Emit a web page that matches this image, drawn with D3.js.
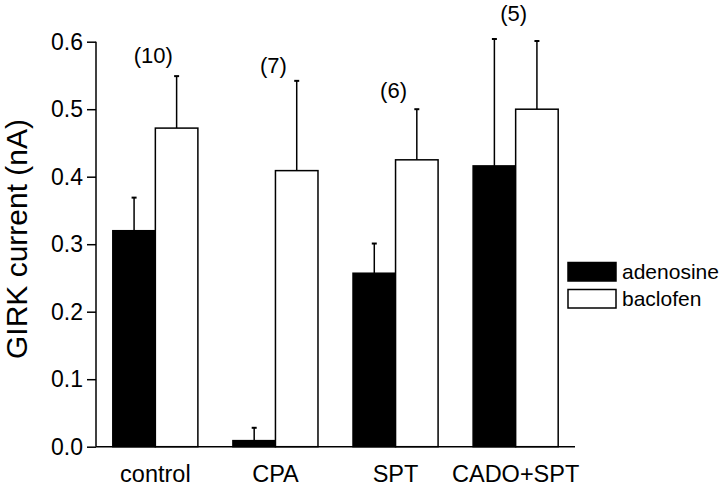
<!DOCTYPE html>
<html><head><meta charset="utf-8">
<script src="https://cdn.jsdelivr.net/npm/d3@7"></script>
<style>body{margin:0;background:#fff}svg{display:block}text{font-family:"Liberation Sans",Arial,sans-serif;fill:#000}</style>
</head><body>
<script>
const categories = ["control", "CPA", "SPT", "CADO+SPT"];
const adenosine = [0.32, 0.009, 0.257, 0.416];
const adenosineErr = [0.049, 0.019, 0.044, 0.188];
const baclofen = [0.472, 0.409, 0.425, 0.5];
const baclofenErr = [0.077, 0.133, 0.075, 0.101];
const nLabels = ["(10)", "(7)", "(6)", "(5)"];
const nLabelY = [0.568, 0.554, 0.516, 0.630];
const yTicks = [0.0, 0.1, 0.2, 0.3, 0.4, 0.5, 0.6];
const seriesNames = ["adenosine", "baclofen"];

const W = 720, H = 488;
const FF = '"Liberation Sans",Arial,sans-serif';
const svg = d3.select("body").append("svg").attr("width", W).attr("height", H);

const y = d3.scaleLinear().domain([0, 0.6]).range([446.7, 41.7]);
const x = d3.scaleBand().domain(categories).range([96, 575]).paddingInner(0.2917).paddingOuter(0.14);
const xs = d3.scaleBand().domain(seriesNames).range([0, x.bandwidth()]);

const fills = {adenosine: "#000", baclofen: "#fff"};
const rows = [];
categories.forEach((c, i) => {
  rows.push({c, s: "adenosine", v: adenosine[i], e: adenosineErr[i]});
  rows.push({c, s: "baclofen", v: baclofen[i], e: baclofenErr[i]});
});

// error bars (upward only)
const eb = svg.append("g").attr("stroke", "#000").attr("stroke-width", 1.5);
rows.forEach(d => {
  const cx = x(d.c) + xs(d.s) + xs.bandwidth() / 2;
  eb.append("line").attr("x1", cx).attr("x2", cx).attr("y1", y(d.v)).attr("y2", y(d.v + d.e));
  eb.append("line").attr("x1", cx - 2.5).attr("x2", cx + 2.5).attr("y1", y(d.v + d.e)).attr("y2", y(d.v + d.e)).attr("stroke-width", 2);
});

// bars
svg.append("g").selectAll("rect").data(rows).join("rect")
  .attr("x", d => x(d.c) + xs(d.s))
  .attr("y", d => y(d.v))
  .attr("width", xs.bandwidth())
  .attr("height", d => y(0) - y(d.v))
  .attr("fill", d => fills[d.s])
  .attr("stroke", "#000").attr("stroke-width", 1.5);

// y axis
const ya = svg.append("g").attr("transform", "translate(96,0)")
  .call(d3.axisLeft(y).tickValues(yTicks).tickFormat(d3.format(".1f")).tickSize(9).tickPadding(4));
ya.select(".domain").attr("stroke-width", 1.5).attr("d", `M0,${y(0)}V${y(0.6)}`);
ya.selectAll(".tick line").attr("stroke-width", 1.5);
ya.selectAll(".tick text").attr("font-size", 23).style("font-family", FF);

// x axis
const xa = svg.append("g").attr("transform", `translate(0,${y(0)})`)
  .call(d3.axisBottom(x).tickSize(0).tickPadding(19));
xa.select(".domain").attr("stroke-width", 1.5).attr("d", "M96,0H575");
xa.selectAll(".tick text").attr("font-size", 23.5).style("font-family", FF);

// n labels
svg.append("g").selectAll("text").data(categories).join("text")
  .attr("x", d => x(d) + x.bandwidth() / 2 - 2)
  .attr("y", (d, i) => y(nLabelY[i]))
  .attr("text-anchor", "middle").attr("font-size", 22)
  .text((d, i) => nLabels[i]);

// y title
svg.append("text").attr("transform", "translate(27,239) rotate(-90)")
  .attr("text-anchor", "middle").attr("font-size", 30).text("GIRK current (nA)");

// legend
const lg = svg.append("g");
seriesNames.forEach((s, i) => {
  lg.append("rect").attr("x", 568).attr("y", 262.5 + i * 27).attr("width", 48).attr("height", 18.5)
    .attr("fill", fills[s]).attr("stroke", "#000").attr("stroke-width", 1.5);
  lg.append("text").attr("x", 622).attr("y", 279 + i * 27).attr("font-size", 21).text(s);
});
</script>
</body></html>
